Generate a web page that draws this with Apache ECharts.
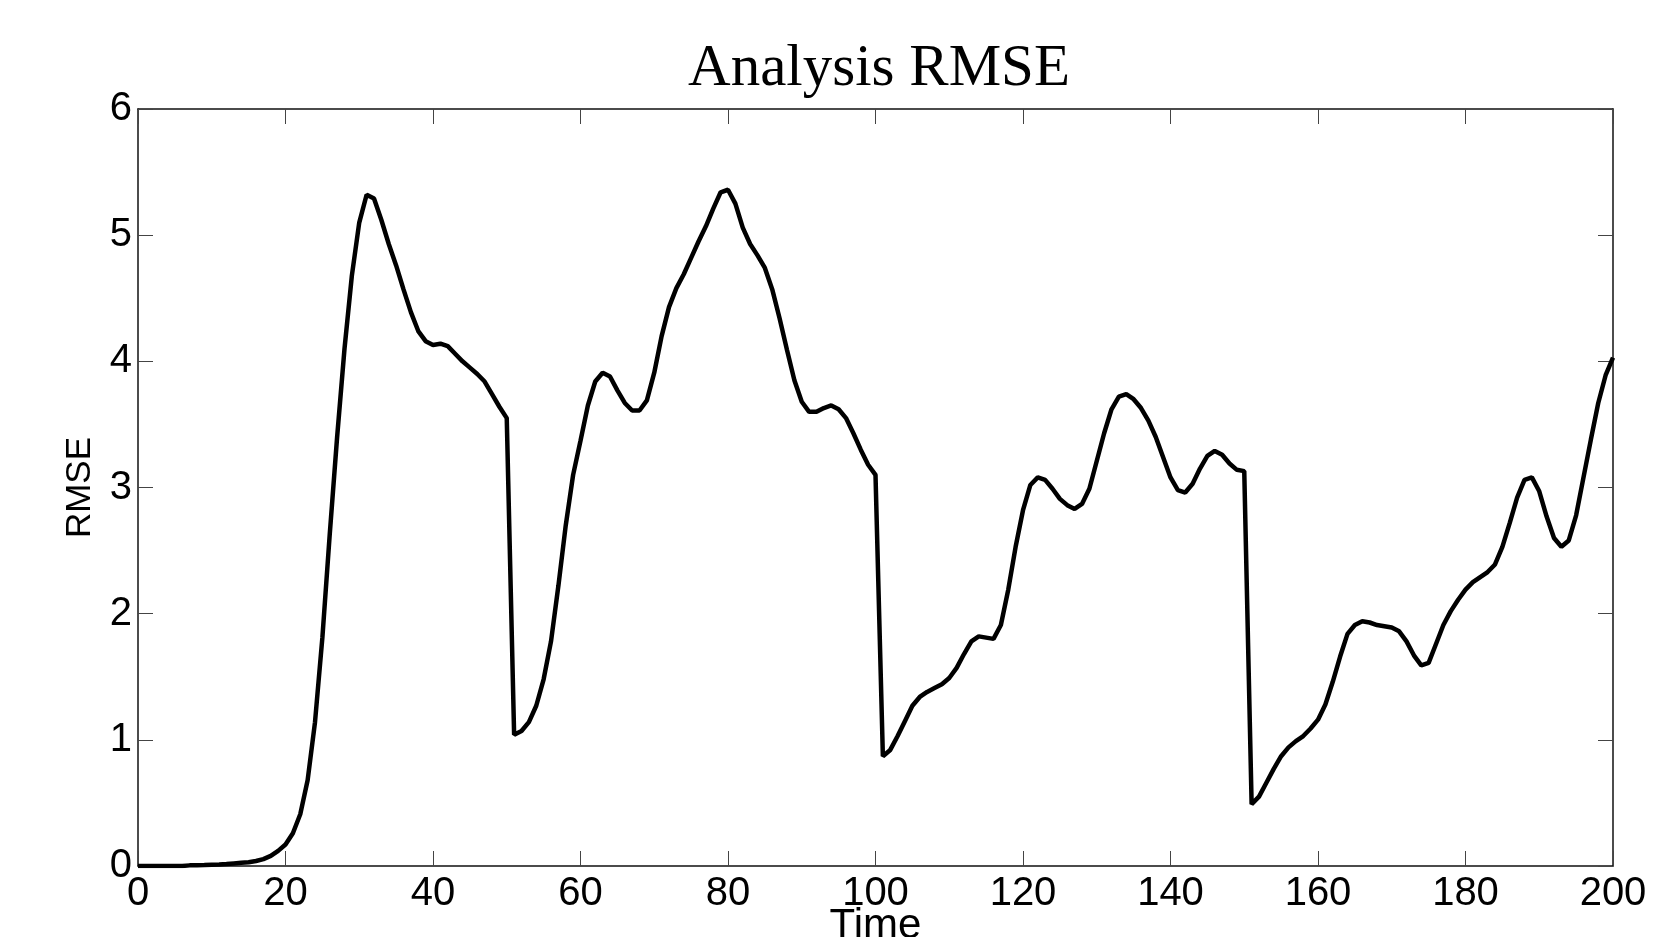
<!DOCTYPE html>
<html lang="en">
<head>
<meta charset="utf-8" />
<title>Analysis RMSE</title>
<script src="https://cdn.jsdelivr.net/npm/echarts@6/dist/echarts.min.js"></script>
<style>
  html, body { margin: 0; padding: 0; background: #fff; }
  #chart { width: 1667px; height: 937px; }
</style>
</head>
<body>
<div id="chart"></div>
<script type="text/javascript">
// time steps (x) and analysis RMSE (y)
var time = [
  0, 1, 2, 3, 4, 5, 6, 7, 8, 9, 10, 11, 12, 13, 14, 15, 16, 17, 18, 19,
  20, 21, 22, 23, 24, 25, 26, 27, 28, 29, 30, 31, 32, 33, 34, 35, 36, 37, 38, 39,
  40, 41, 42, 43, 44, 45, 46, 47, 48, 49, 50, 51, 52, 53, 54, 55, 56, 57, 58, 59,
  60, 61, 62, 63, 64, 65, 66, 67, 68, 69, 70, 71, 72, 73, 74, 75, 76, 77, 78, 79,
  80, 81, 82, 83, 84, 85, 86, 87, 88, 89, 90, 91, 92, 93, 94, 95, 96, 97, 98, 99,
  100, 101, 102, 103, 104, 105, 106, 107, 108, 109, 110, 111, 112, 113, 114, 115, 116, 117, 118, 119,
  120, 121, 122, 123, 124, 125, 126, 127, 128, 129, 130, 131, 132, 133, 134, 135, 136, 137, 138, 139,
  140, 141, 142, 143, 144, 145, 146, 147, 148, 149, 150, 151, 152, 153, 154, 155, 156, 157, 158, 159,
  160, 161, 162, 163, 164, 165, 166, 167, 168, 169, 170, 171, 172, 173, 174, 175, 176, 177, 178, 179,
  180, 181, 182, 183, 184, 185, 186, 187, 188, 189, 190, 191, 192, 193, 194, 195, 196, 197, 198, 199,
  200
];
var rmse = [
  0.00, 0.00, 0.00, 0.00, 0.00, 0.00, 0.00, 0.005, 0.005, 0.007, 0.01, 0.012, 0.015, 0.02, 0.025, 0.03, 0.04, 0.055, 0.08, 0.12,
  0.17, 0.26, 0.41, 0.68, 1.14, 1.81, 2.63, 3.40, 4.10, 4.68, 5.10, 5.32, 5.29, 5.12, 4.93, 4.76, 4.57, 4.39, 4.24, 4.16,
  4.13, 4.14, 4.12, 4.06, 4.00, 3.95, 3.90, 3.84, 3.74, 3.64, 3.55, 1.04, 1.07, 1.14, 1.27, 1.48, 1.78, 2.22, 2.70, 3.10,
  3.37, 3.65, 3.84, 3.91, 3.88, 3.77, 3.67, 3.61, 3.61, 3.69, 3.91, 4.20, 4.43, 4.58, 4.69, 4.82, 4.95, 5.07, 5.21, 5.34,
  5.36, 5.25, 5.06, 4.93, 4.84, 4.74, 4.57, 4.34, 4.09, 3.85, 3.68, 3.60, 3.60, 3.63, 3.65, 3.62, 3.55, 3.43, 3.30, 3.18,
  3.10, 0.87, 0.92, 1.03, 1.15, 1.27, 1.34, 1.38, 1.41, 1.44, 1.49, 1.57, 1.68, 1.78, 1.82, 1.81, 1.80, 1.91, 2.19, 2.53,
  2.82, 3.02, 3.08, 3.06, 2.99, 2.91, 2.86, 2.83, 2.87, 2.99, 3.21, 3.43, 3.62, 3.72, 3.74, 3.70, 3.63, 3.53, 3.40, 3.24,
  3.08, 2.98, 2.96, 3.03, 3.15, 3.25, 3.29, 3.26, 3.19, 3.14, 3.13, 0.49, 0.55, 0.66, 0.77, 0.87, 0.94, 0.99, 1.03, 1.09,
  1.16, 1.28, 1.46, 1.66, 1.84, 1.91, 1.94, 1.93, 1.91, 1.90, 1.89, 1.86, 1.78, 1.67, 1.59, 1.61, 1.76, 1.91, 2.02, 2.11,
  2.19, 2.25, 2.29, 2.33, 2.39, 2.53, 2.72, 2.92, 3.06, 3.08, 2.97, 2.77, 2.60, 2.53, 2.58, 2.78, 3.08, 3.38, 3.67, 3.89,
  4.03
];

var points = [];
for (var i = 0; i < time.length; i++) {
  points.push([time[i], rmse[i]]);
}

var chart = echarts.init(document.getElementById('chart'));

var tickStyle = { show: true, inside: true, length: 15, lineStyle: { color: '#444', width: 1 } };
var lineStyle = { show: true, onZero: false, lineStyle: { color: '#111', width: 1.5 } };
var tickFont = { color: '#000', fontFamily: 'Liberation Sans', fontSize: 40 };

var option = {
  backgroundColor: '#fff',
  animation: false,
  title: {
    text: 'Analysis RMSE',
    left: 874,
    top: 35,
    textAlign: 'center',
    textStyle: { fontFamily: 'Liberation Serif', fontWeight: 'normal', fontSize: 59, color: '#000' }
  },
  grid: { left: 138, right: 54, top: 109, bottom: 71, containLabel: false, outerBoundsMode: 'none' },
  xAxis: [
    {
      type: 'value', min: 0, max: 200, interval: 20, position: 'bottom',
      name: 'Time', nameLocation: 'middle', nameGap: 39, nameMoveOverlap: false,
      nameTextStyle: { color: '#000', fontFamily: 'Liberation Sans', fontSize: 42 },
      axisLine: lineStyle, axisTick: tickStyle,
      axisLabel: { margin: 8, color: tickFont.color, fontFamily: tickFont.fontFamily, fontSize: tickFont.fontSize },
      splitLine: { show: false }
    },
    {
      type: 'value', min: 0, max: 200, interval: 20, position: 'top',
      axisLine: lineStyle, axisTick: tickStyle,
      axisLabel: { show: false }, splitLine: { show: false }
    }
  ],
  yAxis: [
    {
      type: 'value', min: 0, max: 6, interval: 1, position: 'left',
      name: 'RMSE', nameLocation: 'middle', nameGap: 40, nameMoveOverlap: false,
      nameTextStyle: { color: '#000', fontFamily: 'Liberation Sans', fontSize: 35 },
      axisLine: lineStyle, axisTick: tickStyle,
      axisLabel: { margin: 6, color: tickFont.color, fontFamily: tickFont.fontFamily, fontSize: tickFont.fontSize },
      splitLine: { show: false }
    },
    {
      type: 'value', min: 0, max: 6, interval: 1, position: 'right',
      axisLine: lineStyle, axisTick: tickStyle,
      axisLabel: { show: false }, splitLine: { show: false }
    }
  ],
  series: [
    {
      name: 'RMSE',
      type: 'line',
      xAxisIndex: 0,
      yAxisIndex: 0,
      data: points,
      showSymbol: false,
      lineStyle: { color: '#000', width: 4.5 },
      z: 5
    }
  ]
};

chart.setOption(option);
</script>
</body>
</html>
